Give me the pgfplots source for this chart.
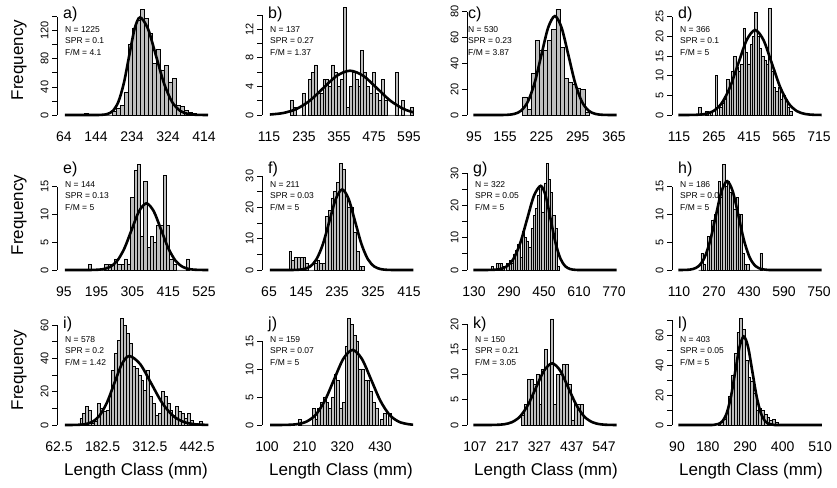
\documentclass[border=0pt]{standalone}
\usepackage{pgfplots}
\pgfplotsset{compat=1.18}
\usepackage{fontspec}
\setmainfont{Liberation Sans}
\definecolor{bargray}{RGB}{190,190,190}
\pgfplotsset{
 panel/.style={scale only axis, width=158pt, anchor=south west, ymin=0, clip=false,
  axis lines*=left, x axis line style={draw=none}, y axis line style={line width=0.8pt},
  tick align=outside, major tick length=5pt,
  xtick style={draw=none}, ytick style={line width=0.8pt,black},
  xticklabel style={font=\fontsize{14}{14}\selectfont, yshift=-8pt},
  yticklabel style={font=\fontsize{11}{11}\selectfont, rotate=90, anchor=south},
 },
 hb/.style={ybar interval, fill=bargray, draw=black, line width=0.75pt},
 fc/.style={black, line width=2.6pt, smooth, mark=none},
}
\newcommand{\ptext}[8]{%
 \begin{scope}[shift={(#1pt,#2pt)}]
 \node[anchor=west,inner sep=0pt,font=\fontsize{16}{16}\selectfont] at (#7pt,101pt) {#3};
 \node[anchor=west,inner sep=0pt,font=\fontsize{8.5}{8.5}\selectfont] at (#8pt,85.5pt) {N = #4};
 \node[anchor=west,inner sep=0pt,font=\fontsize{8.5}{8.5}\selectfont] at (#8pt,74pt) {SPR = #5};
 \node[anchor=west,inner sep=0pt,font=\fontsize{8.5}{8.5}\selectfont] at (#8pt,62.5pt) {F/M = #6};
 \end{scope}}
\begin{document}
\begin{tikzpicture}
\path[use as bounding box] (0pt,0pt) rectangle (837pt,487pt);
% ---------------- a
\begin{axis}[panel, at={(57pt,372pt)}, height=98.3pt, xmin=46.5, xmax=441.5, ymax=140,
 xtick={64,144,234,324,414}, xticklabels={64,144,234,324,414},
 ytick={0,20,...,140}, yticklabels={0,,40,,80,,120,}]
\addplot[hb] coordinates {(114,2)(124,0)(134,0)(144,0)(154,0)(164,0)(174,0)(184,5)(194,10)(204,14)(214,32)(224,100)(234,123)(244,135)(254,150)(264,138)(274,116)(284,74)(294,93)(304,64)(314,71)(324,47)(334,52)(344,14)(354,12)(364,7)(374,4)(384,2)(394,0)};
\addplot[fc] coordinates {(66,0)(146,0.04)(159.5,0.3)(173,1.5)(186.5,6.1)(200,18.8)(213.5,45.1)(227,84.3)(240.5,122.7)(254,139)(274,122.7)(294,84.3)(314,45.1)(334,18.8)(354,6.1)(374,1.5)(394,0.3)(414,0.04)(424,0)};
\end{axis}
% ---------------- b
\begin{axis}[panel, at={(262pt,372pt)}, height=100pt, xmin=91, xmax=633, ymax=14,
 xtick={115,235,355,475,595}, xticklabels={115,235,355,475,595},
 ytick={0,2,...,14}, yticklabels={0,,4,,8,,12,}]
\addplot[hb] coordinates {(190,2)(200,1)(210,0)(220,0)(230,3)(240,0)(250,5)(260,6)(270,7)(280,3)(290,3)(300,5)(310,5)(320,4)(330,7)(340,6)(350,4)(360,5)(370,15)(380,1)(390,4)(400,6)(410,5)(420,4)(430,9)(440,6)(450,4)(460,3)(470,6)(480,3)(490,2)(500,5)(510,2)(520,0)(530,0)(540,0)(550,6)(560,0)(570,2)(580,0)(590,0)(600,1)(610,0)};
\addplot[fc] coordinates {(118,0.07)(163,0.27)(209,0.84)(255,2.01)(301,3.76)(347,5.47)(393,6.2)(439,5.47)(485,3.76)(531,2.01)(577,0.84)(610,0.38)};
\end{axis}
% ---------------- c
\begin{axis}[panel, at={(467pt,372pt)}, height=103.3pt, xmin=81.5, xmax=386.3, ymax=80,
 xtick={95,155,225,295,365}, xticklabels={95,155,225,295,365},
 ytick={0,20,...,80}, yticklabels={0,20,40,60,80}]
\addplot[hb] coordinates {(189,14)(197,4)(205,32)(213,58)(221,50)(229,50)(237,58)(245,66)(253,82)(261,52)(269,28)(277,25)(285,24)(293,21)(301,20)(309,2)(317,0)};
\addplot[fc] coordinates {(94,0)(147,0.02)(160,0.17)(173,0.85)(186,3.36)(199,10.4)(212,24.9)(225,46.5)(238,67.6)(251,76.6)(264,67.6)(277,46.5)(290,24.9)(303,10.4)(316,3.36)(329,0.85)(342,0.17)(355,0.02)(370,0)};
\end{axis}
% ---------------- d
\begin{axis}[panel, at={(672pt,372pt)}, height=98.3pt, xmin=85, xmax=762, ymax=25,
 xtick={115,265,415,565,715}, xticklabels={115,265,415,565,715},
 ytick={0,5,...,25}, yticklabels={0,5,10,15,20,25}]
\addplot[hb] coordinates {(200,2)(210,0)(220,0)(230,1)(240,0)(250,1)(260,0)(270,10)(280,0)(290,2)(300,3)(310,4)(320,9)(330,8)(340,11)(350,15)(360,12)(370,11)(380,13)(390,22)(400,16)(410,13)(420,18)(430,20)(440,26)(450,20)(460,17)(470,15)(480,14)(490,13)(500,27)(510,11)(520,7)(530,6)(540,7)(550,4)(560,5)(570,4)(580,2)(590,1)(600,0)};
\addplot[fc] coordinates {(112,0)(153,0.007)(189,0.05)(225,0.24)(261,0.95)(297,2.92)(333,7.01)(369,13.1)(405,19.06)(441,21.6)(477,19.06)(513,13.1)(549,7.01)(585,2.92)(621,0.95)(657,0.24)(693,0.05)(726,0.01)};
\end{axis}
% ---------------- e
\begin{axis}[panel, at={(57pt,217pt)}, height=83.3pt, xmin=73.5, xmax=558.7, ymax=15,
 xtick={95,195,305,415,525}, xticklabels={95,195,305,415,525},
 ytick={0,5,10,15}, yticklabels={0,5,10,15}]
\addplot[hb] coordinates {(170,1)(180,0)(190,0)(200,0)(210,0)(220,1)(230,1)(240,1)(250,2)(260,1)(270,1)(280,2)(290,1)(300,13)(310,18)(320,19)(330,6)(340,16)(350,4)(360,6)(370,5)(380,8)(390,8)(400,17)(410,8)(420,2)(430,1)(440,0)(450,0)(460,0)(470,2)(480,0)};
\addplot[fc] coordinates {(98,0)(168,0.004)(190.5,0.026)(213,0.13)(235.5,0.53)(258,1.62)(280.5,3.9)(303,7.28)(325.5,10.59)(348,12)(370.5,10.59)(393,7.28)(415.5,3.9)(438,1.62)(460.5,0.53)(483,0.13)(505.5,0.026)(528,0.004)(538,0)};
\end{axis}
% ---------------- f
\begin{axis}[panel, at={(262pt,217pt)}, height=94pt, xmin=47.5, xmax=442.5, ymax=30,
 xtick={65,145,235,325,415}, xticklabels={65,145,235,325,415},
 ytick={0,5,...,30}, yticklabels={0,,10,,20,,30}]
\addplot[hb] coordinates {(115,6)(122,3)(129,4)(136,4)(143,4)(150,4)(157,2)(164,0)(171,0)(178,2)(185,3)(192,2)(199,2)(206,17)(213,19)(220,23)(227,25)(234,28)(241,34)(248,32)(255,24)(262,20)(269,20)(276,12)(283,6)(290,1)(297,1)(304,0)};
\addplot[fc] coordinates {(67,0)(120,0.009)(136,0.056)(152,0.29)(168,1.13)(184,3.48)(200,8.34)(216,15.59)(232,22.68)(248,25.7)(264,22.68)(280,15.59)(296,8.34)(312,3.48)(328,1.13)(344,0.29)(360,0.056)(376,0.009)(426,0)};
\end{axis}
% ---------------- g
\begin{axis}[panel, at={(467pt,217pt)}, height=96.7pt, xmin=98, xmax=820.3, ymax=30,
 xtick={130,290,450,610,770}, xticklabels={130,290,450,610,770},
 ytick={0,5,...,30}, yticklabels={0,,10,,20,,30}]
\addplot[hb] coordinates {(210,1)(220,0)(230,2)(240,2)(250,2)(260,1)(270,0)(280,2)(290,3)(300,2)(310,5)(320,6)(330,8)(340,4)(350,12)(360,10)(370,9)(380,7)(390,13)(400,17)(410,19)(420,23)(430,26)(440,18)(450,27)(460,33)(470,28)(480,24)(490,17)(500,13)(510,1)(520,0)};
\addplot[fc] coordinates {(127,0)(187,0.009)(218,0.057)(249,0.29)(280,1.15)(311,3.53)(342,8.47)(373,15.83)(404,23.03)(435,26.1)(457.5,23.03)(480,15.83)(502.5,8.47)(525,3.53)(547.5,1.15)(570,0.29)(592.5,0.057)(615,0.009)(782,0)};
\end{axis}
% ---------------- h
\begin{axis}[panel, at={(672pt,217pt)}, height=83.3pt, xmin=78, xmax=800.3, ymax=15,
 xtick={110,270,430,590,750}, xticklabels={110,270,430,590,750},
 ytick={0,5,10,15}, yticklabels={0,5,10,15}]
\addplot[hb] coordinates {(200,0)(210,3)(220,1)(230,0)(240,6)(250,6)(260,9)(270,10)(280,11)(290,16)(300,13)(310,19)(320,15)(330,16)(340,14)(350,14)(360,11)(370,13)(380,10)(390,10)(400,3)(410,1)(420,1)(430,0)(440,0)(450,0)(460,0)(470,0)(480,3)(490,0)};
\addplot[fc] coordinates {(107,0)(122,0.005)(148,0.035)(174,0.18)(200,0.7)(226,2.17)(252,5.2)(278,9.7)(304,14.12)(330,16)(356,14.12)(382,9.7)(408,5.2)(434,2.17)(460,0.7)(486,0.18)(512,0.035)(538,0.005)(762,0)};
\end{axis}
% ---------------- i
\begin{axis}[panel, at={(57pt,62pt)}, height=100pt, xmin=57, xmax=492, ymax=60,
 xtick={62.5,182.5,312.5,442.5}, xticklabels={62.5,182.5,312.5,442.5},
 ytick={0,10,...,60}, yticklabels={0,,20,,40,,60}]
\addplot[hb] coordinates {(120,4)(128,7)(136,11)(144,9)(152,1)(160,2)(168,13)(176,10)(184,8)(192,9)(200,17)(208,33)(216,43)(224,51)(232,64)(240,60)(248,55)(256,49)(264,35)(272,34)(280,30)(288,27)(296,21)(304,33)(312,17)(320,13)(328,6)(336,7)(344,20)(352,17)(360,13)(368,9)(376,6)(384,11)(392,8)(400,7)(408,4)(416,7)(424,3)(432,1)(440,0)(448,2)(456,0)};
\addplot[fc] coordinates {(79,0)(92,0.014)(112.5,0.09)(133,0.46)(153.5,1.82)(174,5.6)(194.5,13.44)(215,25.11)(235.5,36.54)(256,41.4)(286,36.54)(316,25.11)(346,13.44)(376,5.6)(406,1.82)(436,0.46)(466,0.09)(474,0.06)};
\end{axis}
% ---------------- j
\begin{axis}[panel, at={(262pt,62pt)}, height=84pt, xmin=85.4, xmax=547, ymax=15,
 xtick={100,210,320,430}, xticklabels={100,210,320,430},
 ytick={0,5,10,15}, yticklabels={0,5,10,15}]
\addplot[hb] coordinates {(192,1)(200,0)(208,0)(216,0)(224,0)(232,3)(240,1)(248,3)(256,4)(264,5)(272,4)(280,3)(288,5)(296,9)(304,8)(312,3)(320,4)(328,14)(336,19)(344,18)(352,16)(360,15)(368,10)(376,10)(384,8)(392,8)(400,6)(408,4)(416,3)(424,0)(432,1)(440,2)(448,0)(456,2)(464,0)};
\addplot[fc] coordinates {(109,0)(134,0.004)(161,0.029)(188,0.15)(215,0.59)(242,1.81)(269,4.35)(296,8.13)(323,11.83)(350,13.4)(377,11.83)(404,8.13)(431,4.35)(458,1.81)(485,0.59)(512,0.15)(527,0.06)};
\end{axis}
% ---------------- k
\begin{axis}[panel, at={(467pt,62pt)}, height=101pt, xmin=79.7, xmax=618.5, ymax=20,
 xtick={107,217,327,437,547}, xticklabels={107,217,327,437,547},
 ytick={0,5,...,20}, yticklabels={0,5,10,15,20}]
\addplot[hb] coordinates {(265,2)(275,4)(285,9)(295,9)(305,8)(315,10)(325,4)(335,11)(345,15)(355,12)(365,21)(375,4)(385,10)(395,10)(405,12)(415,12)(425,8)(435,1)(445,4)(455,4)(465,4)(475,0)};
\addplot[fc] coordinates {(101,0)(150,0.004)(177.5,0.027)(205,0.135)(232.5,0.54)(260,1.65)(287.5,3.96)(315,7.4)(342.5,10.77)(370,12.2)(397.5,10.77)(425,7.4)(452.5,3.96)(480,1.65)(507.5,0.54)(535,0.135)(562.5,0.027)(590,0.004)};
\end{axis}
% ---------------- l
\begin{axis}[panel, at={(672pt,62pt)}, height=105pt, xmin=75.3, xmax=539, ymax=70,
 xtick={90,180,290,400,510}, xticklabels={90,180,290,400,510},
 ytick={0,10,...,70}, yticklabels={0,,20,,40,,60,}]
\addplot[hb] coordinates {(210,1)(218,2)(226,4)(234,10)(242,19)(250,33)(258,48)(266,62)(274,71)(282,64)(290,43)(298,32)(306,29)(314,21)(322,10)(330,11)(338,10)(346,7)(354,5)(362,3)(370,4)(378,2)(386,0)};
\addplot[fc] coordinates {(94,0)(186,0.02)(198.5,0.13)(211,0.65)(223.5,2.59)(236,7.98)(248.5,19.16)(261,35.78)(273.5,52.07)(286,59)(298.5,52.07)(311,35.78)(323.5,19.16)(336,7.98)(348.5,2.59)(361,0.65)(373.5,0.13)(386,0.02)(515,0)};
\end{axis}
% ---------------- texts
\ptext{57}{372}{a)}{1225}{0.1}{4.1}{6}{8}
\ptext{262}{372}{b)}{137}{0.27}{1.37}{6}{8}
\ptext{467}{372}{c)}{530}{0.23}{3.87}{1}{1}
\ptext{672}{372}{d)}{366}{0.1}{5}{6}{8}
\ptext{57}{217}{e)}{144}{0.13}{5}{6}{8}
\ptext{262}{217}{f)}{211}{0.03}{5}{6}{8}
\ptext{467}{217}{g)}{322}{0.05}{5}{6}{8}
\ptext{672}{217}{h)}{186}{0.0}{5}{6}{8}
\ptext{57}{62}{i)}{578}{0.2}{1.42}{6}{8}
\ptext{262}{62}{j)}{159}{0.07}{5}{6}{8}
\ptext{467}{62}{k)}{150}{0.21}{3.05}{6}{8}
\ptext{672}{62}{l)}{403}{0.05}{5}{6}{8}
\foreach \yy in {427,272,117} {
 \node[rotate=90,font=\fontsize{17}{17}\selectfont] at (19pt,\yy pt) {Frequency};
}
\foreach \xx in {136,341,546,751} {
 \node[font=\fontsize{17}{17}\selectfont] at (\xx pt,16pt) {Length Class (mm)};
}
\end{tikzpicture}
\end{document}
